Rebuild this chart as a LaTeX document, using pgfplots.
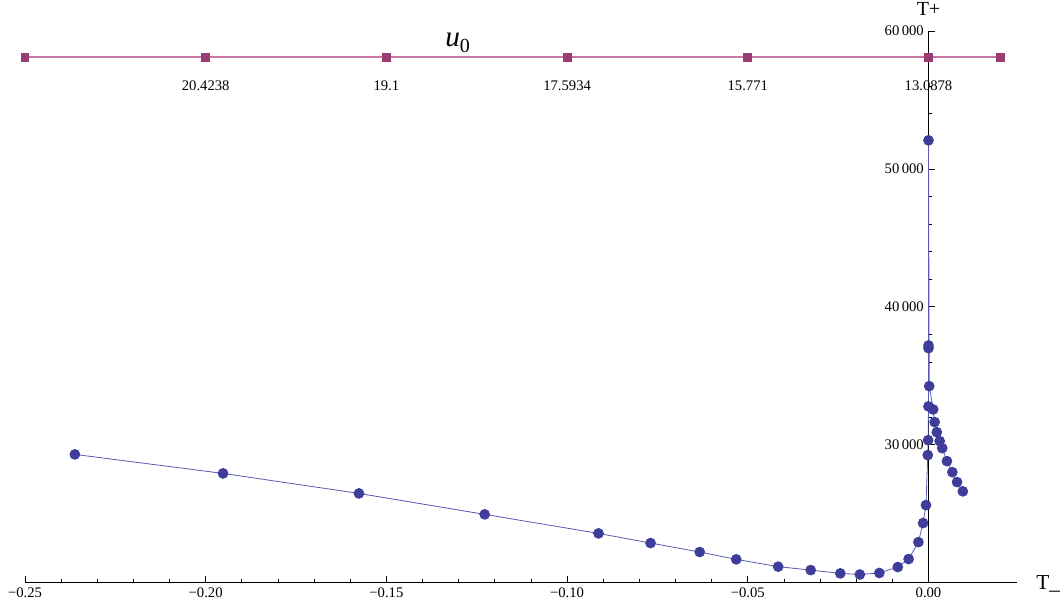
\documentclass[border=0pt]{standalone}
\usepackage{pgfplots}
\pgfplotsset{compat=1.18}
\usepackage{pgfplotstable}
\usepackage{fontspec}
\setmainfont{Liberation Serif}

\definecolor{ptblue}{RGB}{62,61,153}
\definecolor{lnblue}{RGB}{90,90,175}
\definecolor{ptmag}{RGB}{153,61,113}
\definecolor{lnmag}{RGB}{200,120,165}

% T_- versus T_+ along the branch
\pgfplotstableread{
x y
-0.2362 29300
-0.1952 27920
-0.1576 26470
-0.1228 24950
-0.0913 23570
-0.0769 22870
-0.0633 22220
-0.0532 21690
-0.0416 21160
-0.0326 20910
-0.0244 20670
-0.0190 20590
-0.0136 20700
-0.0085 21130
-0.0055 21710
-0.0028 22940
-0.0015 24320
-0.0007 25620
-0.0002 29250
-0.0001 30330
0.0000 32780
0.0000 37000
0.0000 37200
0.0000 52070
0.0002 34250
0.0013 32560
0.0017 31640
0.0023 30910
0.0031 30260
0.0038 29750
0.0051 28810
0.0066 28010
0.0079 27290
0.0095 26620
}\branch

% u0 scale along the top
\pgfplotstableread{
x y lab
-0.25 58100 {}
-0.20 58100 20.4238
-0.15 58100 19.1
-0.10 58100 17.5934
-0.05 58100 15.771
0.00 58100 13.0878
0.02 58100 {}
}\uscale

\begin{document}
\begin{tikzpicture}
\begin{axis}[
    scale only axis,
    width=744.75pt,
    height=414pt,
    xmin=-0.25, xmax=0.0246,
    ymin=20000, ymax=60000,
    axis x line=bottom,
    axis y line=middle,
    axis line style={-, black, line width=0.6pt},
    hide obscured x ticks=false,
    hide obscured y ticks=false,
    scaled y ticks=false,
    scaled x ticks=false,
    tick align=inside,
    major tick length=5pt,
    minor tick length=2.5pt,
    tick style={black, line width=0.5pt},
    xtick={-0.25,-0.20,-0.15,-0.10,-0.05,0},
    xticklabels={−0.25,−0.20,−0.15,−0.10,−0.05,0.00},
    minor x tick num=4,
    ytick={30000,40000,50000,60000},
    yticklabels={30\,000,40\,000,50\,000,60\,000},
    minor y tick num=4,
    tick label style={font=\fontsize{11}{12}\selectfont},
    clip=false,
]
\addplot [lnmag, line width=1.1pt, mark=square*,
    mark options={ptmag, draw=ptmag, fill=ptmag, scale=1.4},
    nodes near coords, point meta=explicit symbolic,
    nodes near coords align=below,
    every node near coord/.append style={black, yshift=-14pt,
        font=\fontsize{11}{12}\selectfont}]
    table [meta=lab] {\uscale};
\addplot [lnblue, line width=0.6pt, mark=*,
    mark options={ptblue, draw=ptblue, fill=ptblue, scale=1.85}]
    table {\branch};

\node [anchor=base, inner sep=0pt] at (axis cs:-0.1303,58100)
    [yshift=8pt] {\fontsize{22}{24}\selectfont\textit{u}\raisebox{-0.22em}{\fontsize{15}{16}\selectfont 0}};
\node [anchor=base, inner sep=0pt] at (axis cs:0,60000)
    [yshift=11.5pt] {\fontsize{15}{16}\selectfont T+};
\node [anchor=base west, inner sep=0pt] at (rel axis cs:1,0)
    [xshift=14pt, yshift=-5.5pt] {\fontsize{16}{17}\selectfont T\_};

\coordinate (bl) at ([xshift=-18.75pt, yshift=-19.5pt]rel axis cs:0,0);
\coordinate (tr) at ([xshift=31.5pt, yshift=23.25pt]rel axis cs:1,1);
\end{axis}
\path (bl) rectangle (tr);
\end{tikzpicture}
\end{document}
